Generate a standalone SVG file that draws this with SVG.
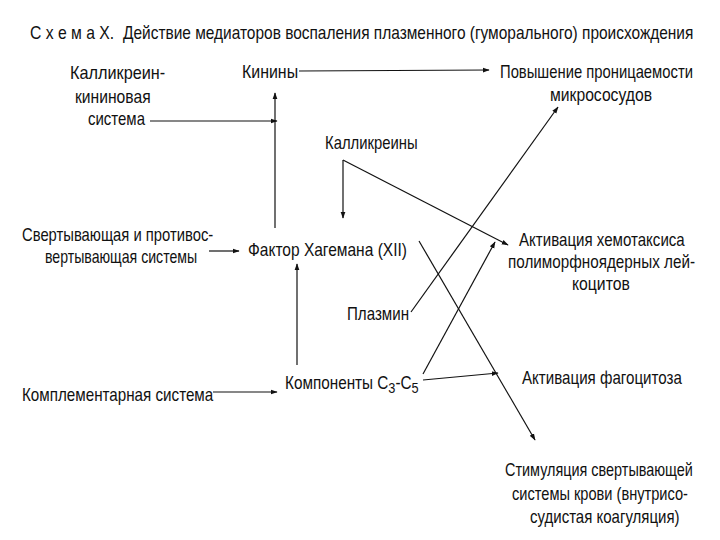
<svg xmlns="http://www.w3.org/2000/svg" width="720" height="540" viewBox="0 0 720 540">
<style>
text{font-family:"Liberation Sans",Arial,sans-serif;font-size:18px;fill:#111}
.c{stroke:#111;stroke-width:1.2;fill:none}
</style>
<defs>
<marker id="ah" viewBox="0 0 10 10" refX="9" refY="5" markerWidth="7" markerHeight="7" orient="auto" markerUnits="userSpaceOnUse">
<path d="M0,1.5 L10,5 L0,8.5 Z" fill="#111"/>
</marker>
</defs>
<rect width="720" height="540" fill="#fff"/>
<g id="title">
<text transform="translate(30 39) scale(0.85 1)" textLength="99" lengthAdjust="spacingAndGlyphs">С х е м а  Х.</text>
<text transform="translate(123 39) scale(0.85 1)" textLength="671" lengthAdjust="spacingAndGlyphs">Действие медиаторов воспаления плазменного (гуморального) происхождения</text>
</g>
<g id="kallikrein-kinin">
<text transform="translate(70 79) scale(0.85 1)" textLength="112" lengthAdjust="spacingAndGlyphs">Калликреин-</text>
<text transform="translate(75 103) scale(0.85 1)" textLength="89" lengthAdjust="spacingAndGlyphs">кининовая</text>
<text transform="translate(88 125) scale(0.85 1)" textLength="67" lengthAdjust="spacingAndGlyphs">система</text>
</g>
<g id="kininy"><text transform="translate(242 78) scale(0.85 1)" textLength="66" lengthAdjust="spacingAndGlyphs">Кинины</text></g>
<g id="permeability">
<text transform="translate(500 78) scale(0.85 1)" textLength="227" lengthAdjust="spacingAndGlyphs">Повышение проницаемости</text>
<text transform="translate(550 101) scale(0.85 1)" textLength="120" lengthAdjust="spacingAndGlyphs">микрососудов</text>
</g>
<g id="kallikreiny"><text transform="translate(325 149) scale(0.85 1)" textLength="109" lengthAdjust="spacingAndGlyphs">Калликреины</text></g>
<g id="coagulation-systems">
<text transform="translate(22 241) scale(0.85 1)" textLength="225" lengthAdjust="spacingAndGlyphs">Свертывающая и противос-</text>
<text transform="translate(45 263) scale(0.85 1)" textLength="179" lengthAdjust="spacingAndGlyphs">вертывающая системы</text>
</g>
<g id="hageman"><text transform="translate(248 256) scale(0.85 1)" textLength="187" lengthAdjust="spacingAndGlyphs">Фактор Хагемана (XII)</text></g>
<g id="chemotaxis">
<text transform="translate(519 246) scale(0.85 1)" textLength="195" lengthAdjust="spacingAndGlyphs">Активация хемотаксиса</text>
<text transform="translate(508 268) scale(0.85 1)" textLength="220" lengthAdjust="spacingAndGlyphs">полиморфноядерных лей-</text>
<text transform="translate(572 290) scale(0.85 1)" textLength="68" lengthAdjust="spacingAndGlyphs">коцитов</text>
</g>
<g id="plasmin"><text transform="translate(347 320) scale(0.85 1)" textLength="73" lengthAdjust="spacingAndGlyphs">Плазмин</text></g>
<g id="complement-system"><text transform="translate(22 401) scale(0.85 1)" textLength="225" lengthAdjust="spacingAndGlyphs">Комплементарная система</text></g>
<g id="components"><text transform="translate(285 389) scale(0.85 1)">Компоненты С<tspan dy="4" font-size="15">3</tspan><tspan dy="-4">-С</tspan><tspan dy="4" font-size="15">5</tspan></text></g>
<g id="phagocytosis"><text transform="translate(522 384) scale(0.85 1)" textLength="188" lengthAdjust="spacingAndGlyphs">Активация фагоцитоза</text></g>
<g id="coagulation-stimulation">
<text transform="translate(505 476) scale(0.85 1)" textLength="221" lengthAdjust="spacingAndGlyphs">Стимуляция свертывающей</text>
<text transform="translate(512 500) scale(0.85 1)" textLength="207" lengthAdjust="spacingAndGlyphs">системы крови (внутрисо-</text>
<text transform="translate(530 523) scale(0.85 1)" textLength="176" lengthAdjust="spacingAndGlyphs">судистая коагуляция)</text>
</g>
<g id="connectors">
<line class="c" x1="299" y1="71" x2="489" y2="70" marker-end="url(#ah)"/>
<line class="c" x1="150" y1="121" x2="277" y2="121" marker-end="url(#ah)"/>
<line class="c" x1="275" y1="228" x2="275" y2="93" marker-end="url(#ah)"/>
<line class="c" x1="343" y1="160" x2="343" y2="218" marker-end="url(#ah)"/>
<line class="c" x1="343" y1="160" x2="508" y2="245" marker-end="url(#ah)"/>
<line class="c" x1="209" y1="251" x2="239" y2="251" marker-end="url(#ah)"/>
<line class="c" x1="297" y1="365" x2="297" y2="264" marker-end="url(#ah)"/>
<line class="c" x1="411" y1="312" x2="558" y2="107" marker-end="url(#ah)"/>
<line class="c" x1="419" y1="241" x2="535" y2="440" marker-end="url(#ah)"/>
<line class="c" x1="423" y1="374" x2="495" y2="242" marker-end="url(#ah)"/>
<line class="c" x1="423" y1="380" x2="498" y2="373" marker-end="url(#ah)"/>
<line class="c" x1="213" y1="392" x2="277" y2="392" marker-end="url(#ah)"/>
</g>
</svg>
